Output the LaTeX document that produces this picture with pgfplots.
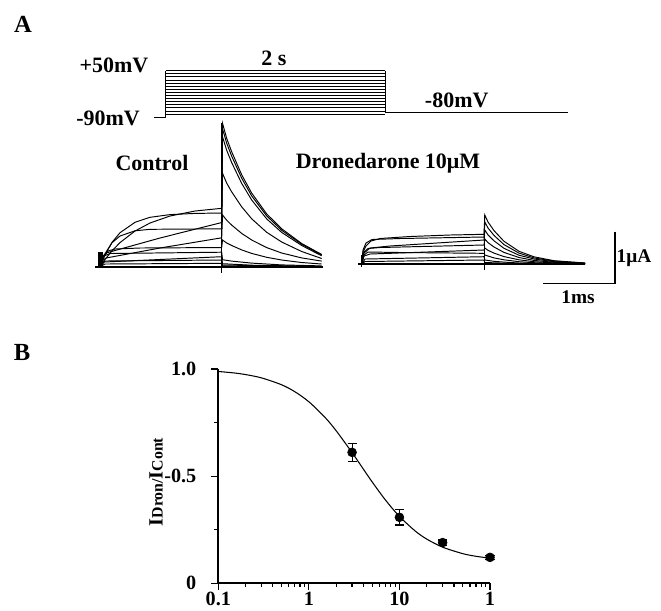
\documentclass[border=0pt]{standalone}
\usepackage{fontspec}
\setmainfont{Liberation Serif}
\usepackage{pgfplots}
\pgfplotsset{compat=1.18}
\newcommand{\lab}{\fontsize{12.5}{14}\selectfont\bfseries}
\begin{document}
\begin{tikzpicture}
\path[use as bounding box] (0,0) rectangle (13.22cm,12.2cm);
% panel A, drawn in the pixel frame of the figure (y downwards)
\begin{axis}[at={(0,0)}, anchor=south west, scale only axis,
  width=13.22cm, height=12.2cm,
  xmin=0, xmax=661, ymin=0, ymax=610, y dir=reverse,
  hide axis, clip=false,
  cycle list={{black, solid, mark=none}},
  every axis plot/.append style={line width=0.55pt},
]
% voltage protocol
\addplot coordinates {(154,117.3) (165.7,117.3) (165.7,70.7)};
\addplot coordinates {(385,70.7) (385,112.7) (568.3,112.7)};
\addplot coordinates {(165.7,70.7) (385,70.7)};
\addplot coordinates {(165.7,73.8) (385,73.8)};
\addplot coordinates {(165.7,76.9) (385,76.9)};
\addplot coordinates {(165.7,80.0) (385,80.0)};
\addplot coordinates {(165.7,83.1) (385,83.1)};
\addplot coordinates {(165.7,86.2) (385,86.2)};
\addplot coordinates {(165.7,89.3) (385,89.3)};
\addplot coordinates {(165.7,92.4) (385,92.4)};
\addplot coordinates {(165.7,95.5) (385,95.5)};
\addplot coordinates {(165.7,98.6) (385,98.6)};
\addplot coordinates {(165.7,101.7) (385,101.7)};
\addplot coordinates {(165.7,104.8) (385,104.8)};
\addplot coordinates {(165.7,107.9) (385,107.9)};
\addplot coordinates {(165.7,111.0) (385,111.0)};
\addplot coordinates {(165.7,114.1) (385,114.1)};

% control currents
\addplot[black, line width=0.9pt] coordinates {(95,266.7) (322.8,266.7)};
\addplot[black, fill=black] coordinates {(98.3,252.7) (102.7,252.7) (102.7,266.7) (98.3,266.7)} -- cycle;
\addplot coordinates {(221.7,123) (221.7,273)};
\addplot coordinates {(100,266.7) (105,259.5) (112,250.8) (120,242.6) (135,231.0) (150,223.0) (170,216.0) (195,211.0) (221.7,208.3)
  (222.5,123.3) (226.7,138.4) (231.7,151.8) (241.7,174.8) (251.7,193.1) (266.7,213.9) (281.7,228.8) (301.7,243.5) (321.7,254.5)};
\addplot coordinates {(100,266.7) (105,254.8) (112,242.4) (120,232.7) (135,222.3) (150,217.3) (170,214.6) (195,213.4) (221.7,213.0)
  (222.5,128.7) (226.7,143.2) (231.7,156.2) (241.7,178.2) (251.7,195.9) (266.7,215.9) (281.7,230.3) (301.7,244.3) (321.7,255.0)};
\addplot coordinates {(100,266.7) (103,256) (106,253) (160,238) (221.7,222.5)
  (222.5,136.7) (226.7,150.3) (231.7,162.6) (241.7,183.4) (251.7,200.0) (266.7,218.9) (281.7,232.4) (301.7,245.5) (321.7,255.8)};
\addplot coordinates {(100,266.7) (105,253.8) (112,242.7) (120,236.0) (135,230.8) (150,229.3) (221.7,228.8)
  (222.5,173.3) (226.7,183.1) (231.7,191.9) (241.7,206.8) (251.7,218.8) (266.7,232.3) (281.7,242.0) (301.7,251.5) (321.7,258.5)};
\addplot coordinates {(100,266.7) (103,260) (106,258) (160,248) (221.7,237.8)
  (222.5,215.0) (226.7,220.2) (231.7,225.1) (241.7,233.4) (251.7,240.0) (266.7,247.6) (281.7,253.0) (301.7,257.9) (321.7,261.1)};
\addplot coordinates {(100,266.7) (103,258) (108,251) (115,249) (140,248) (221.7,247.5)
  (222.5,240.0) (226.7,243.0) (231.7,245.5) (241.7,249.9) (251.7,253.4) (266.7,257.3) (281.7,260.0) (301.7,262.5) (321.7,264.0)};
\addplot coordinates {(100,266.7) (104,256) (110,253.5) (221.7,252.2) (222.5,259.7) (231.7,261.1) (251.7,263.1) (281.7,264.9) (321.7,265.9)};
\addplot coordinates {(100,266.7) (104,262) (221.7,256.7) (222.5,263.7) (251.7,265.2) (321.7,266.4)};
\addplot coordinates {(100,266.7) (105,261) (221.7,260) (222.5,265) (321.7,266.7)};
\addplot coordinates {(100,266.7) (105,264) (221.7,263.3) (222.5,266) (321.7,266.7)};

% dronedarone currents
\addplot[black, line width=0.9pt] coordinates {(358.3,264) (585,264)};
\addplot coordinates {(484,215) (484,270)};
\addplot coordinates {(361.7,255) (361.7,267)};
\addplot coordinates {(361.7,264) (363,252) (366,246) (371,241) (380,238.5) (410,236.5) (450,235) (484,234.3)
  (484.8,215) (488,222.0) (494,230.6) (504,241.3) (519,251.3) (534,256.8) (554,260.7) (585,263.0)};
\addplot coordinates {(361.7,264) (363,250) (366,243) (372,239.5) (400,238.5) (484,237)
  (484.8,222) (488,228.0) (494,235.4) (504,244.6) (519,253.1) (534,257.9) (554,261.1) (585,263.1)};
\addplot coordinates {(361.7,264) (364,253) (370,248) (390,246) (484,240)
  (484.8,230) (488,234.9) (494,240.8) (504,248.3) (519,255.2) (534,259.0) (554,261.7) (585,263.3)};
\addplot coordinates {(361.7,264) (364,252) (368,248.5) (380,247.5) (484,245)
  (484.8,239) (488,242.6) (494,247.0) (504,252.4) (519,257.5) (534,260.4) (554,262.3) (585,263.5)};
\addplot coordinates {(361.7,264) (364,256) (370,254) (484,250)
  (484.8,248) (488,250.3) (494,253.1) (504,256.6) (519,259.8) (534,261.7) (554,262.9) (585,263.7)};
\addplot coordinates {(361.7,264) (364,255) (368,252) (400,252.5) (484,253.3)
  (484.8,255) (494,257.9) (504,259.8) (519,261.7) (534,262.7) (554,263.4) (585,263.8)};
\addplot coordinates {(361.7,264) (365,259) (484,256.7) (484.8,260) (494,261.3) (504,262.1) (519,263.0) (554,263.7) (585,263.9)};
\addplot coordinates {(361.7,264) (365,261.5) (484,260) (484.8,262.5) (519,263.6) (585,264)};

% scale bars
\addplot[black, line width=0.9pt] coordinates {(615,231.7) (615,283.3) (543.3,283.3)};

% text
\node[font=\fontsize{14}{16}\selectfont\bfseries] at (axis cs:23,24) {A};
\node[font=\fontsize{14}{16}\selectfont\bfseries] at (axis cs:22,352) {B};
\node[font=\lab] at (axis cs:114,65) {+50mV};
\node[font=\lab] at (axis cs:274,58) {2 s};
\node[font=\lab] at (axis cs:108,118) {-90mV};
\node[font=\lab] at (axis cs:456.7,100) {-80mV};
\node[font=\lab] at (axis cs:152,163) {Control};
\node[font=\lab] at (axis cs:388,163) {Dronedarone 10μM};
\node[font=\fontsize{11}{13}\selectfont\bfseries] at (axis cs:634,258) {1μA};
\node[font=\fontsize{11}{13}\selectfont\bfseries] at (axis cs:578,297) {1ms};
\node[rotate=90, font=\bfseries, inner sep=0pt] at (axis cs:156,482)
  {{\fontsize{11.5}{13}\selectfont I}{\fontsize{9}{11}\selectfont Dron/}{\fontsize{11.5}{13}\selectfont I}{\fontsize{9}{11}\selectfont Cont}};
\end{axis}

% panel B
\begin{axis}[at={(4.366cm,0.534cm)}, anchor=south west, scale only axis,
  width=5.434cm, height=4.286cm,
  xmode=log, xmin=0.1, xmax=100, ymin=0, ymax=1,
  axis lines=left, axis line style={line width=1.1pt, -},
  tick align=outside, major tick length=4pt, minor tick length=2.2pt,
  tick style={line width=0.7pt, black},
  xtick={0.1,1,10,100}, xticklabels={0.1,1,10,1},
  ytick={0,0.5,1}, yticklabels={0,{\mbox{-0.5}},1.0},
  minor ytick={0.25,0.75},
  ticklabel style={font=\fontsize{11.5}{12}\selectfont\bfseries},
  yticklabel style={xshift=-5pt},
  xticklabel style={yshift=2.5pt},
  clip=false,
]
\addplot[black, line width=0.6pt, smooth] coordinates {
(0.1,0.9885) (0.15,0.9815) (0.2,0.9741) (0.3,0.9585) (0.5,0.9264) (0.7,0.8941)
(1,0.8471) (1.5,0.7752) (2,0.7121) (3,0.6099) (4,0.5326) (5,0.4731) (7,0.3890)
(10,0.3120) (15,0.2434) (20,0.2065) (30,0.1686) (50,0.1385) (70,0.1261) (100,0.1172)};
\addplot[black, only marks, mark=*, mark size=2.5pt,
  error bars/.cd, y dir=both, y explicit, error mark=-,
  error bar style={line width=0.6pt},
  error mark options={rotate=90, mark size=2.6pt, line width=0.6pt}]
  coordinates {
  (3,0.611) +- (0,0.041)
  (10,0.308) +- (0,0.036)
  (30,0.190) +- (0,0.012)
  (100,0.121) +- (0,0.008)};
\end{axis}
\end{tikzpicture}
\end{document}
